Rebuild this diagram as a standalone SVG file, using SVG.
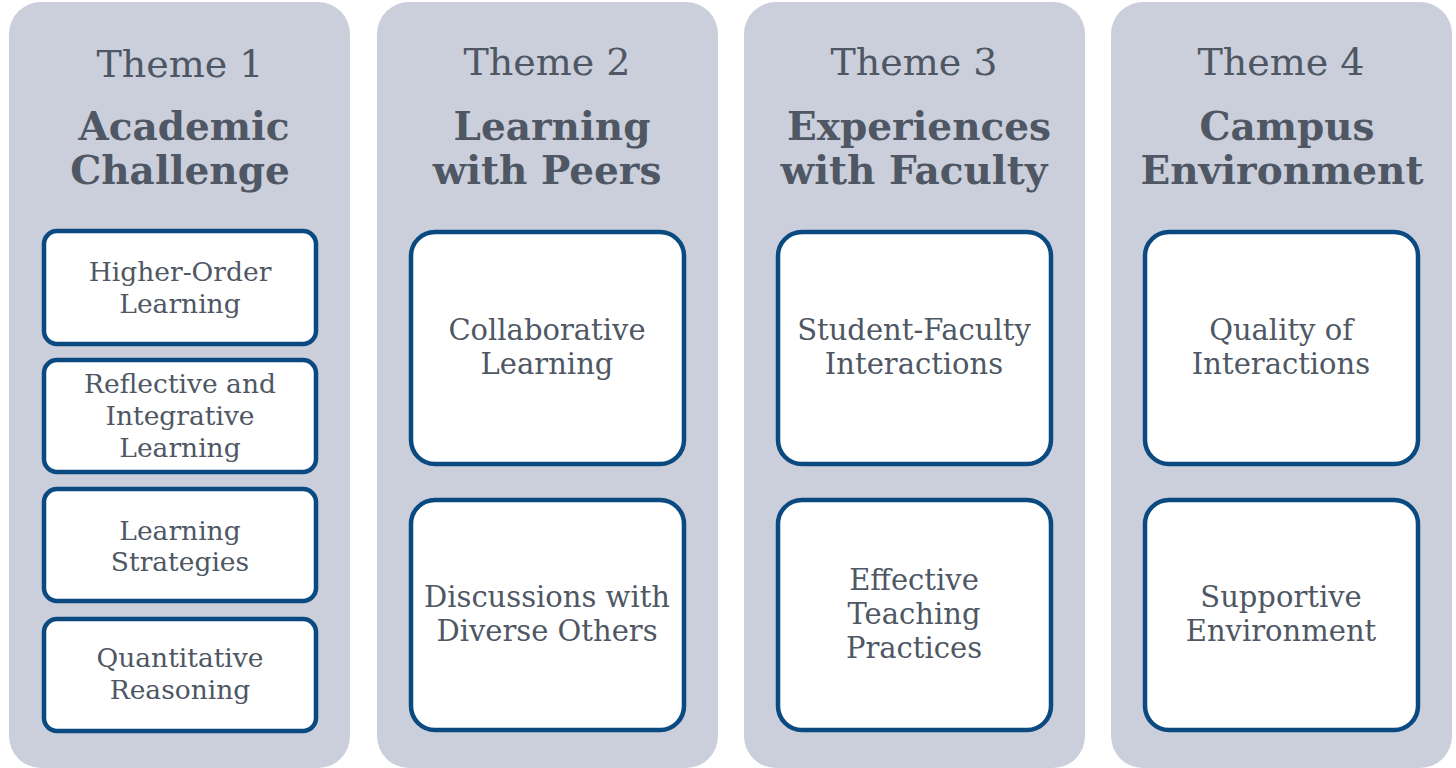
<svg xmlns="http://www.w3.org/2000/svg" width="1456" height="768" viewBox="0 0 1456 768">
<style>
.panel{fill:#cbcfdb;}
.box{fill:#ffffff;stroke:#0b4a80;stroke-width:4.5;}
text{font-family:"DejaVu Serif","Liberation Serif",serif;fill:#4e5763;text-anchor:middle;}
.theme{font-size:38px;}
.title{font-size:39px;font-weight:bold;}
.s{font-size:26.5px;}
.l{font-size:29px;}
</style>
<rect width="1456" height="768" fill="#ffffff"/>
<g id="theme1">
<rect class="panel" x="9" y="2" width="341" height="766" rx="32"/>
<text class="theme" x="180" y="77">Theme 1</text>
<text class="title" x="184" y="140">Academic</text>
<text class="title" x="180" y="184">Challenge</text>
</g>
<g id="theme2">
<rect class="panel" x="377" y="2" width="341" height="766" rx="32"/>
<text class="theme" x="547" y="75">Theme 2</text>
<text class="title" x="552" y="140">Learning</text>
<text class="title" x="547" y="184">with Peers</text>
</g>
<g id="theme3">
<rect class="panel" x="744" y="2" width="341" height="766" rx="32"/>
<text class="theme" x="914" y="75">Theme 3</text>
<text class="title" x="919" y="140">Experiences</text>
<text class="title" x="914" y="184">with Faculty</text>
</g>
<g id="theme4">
<rect class="panel" x="1111" y="2" width="341" height="766" rx="32"/>
<text class="theme" x="1281" y="75">Theme 4</text>
<text class="title" x="1287" y="140">Campus</text>
<text class="title" x="1282" y="184">Environment</text>
</g>
<g id="higher-order-learning">
<rect class="box" x="44" y="231" width="272" height="113" rx="13"/>
<text class="s" x="180" y="281">Higher-Order</text>
<text class="s" x="180" y="313">Learning</text>
</g>
<g id="reflective-integrative-learning">
<rect class="box" x="44" y="360" width="272" height="112" rx="13"/>
<text class="s" x="180" y="393">Reflective and</text>
<text class="s" x="180" y="425">Integrative</text>
<text class="s" x="180" y="457">Learning</text>
</g>
<g id="learning-strategies">
<rect class="box" x="44" y="489" width="272" height="112" rx="13"/>
<text class="s" x="180" y="540">Learning</text>
<text class="s" x="180" y="571">Strategies</text>
</g>
<g id="quantitative-reasoning">
<rect class="box" x="44" y="619" width="272" height="112" rx="13"/>
<text class="s" x="180" y="667">Quantitative</text>
<text class="s" x="180" y="699">Reasoning</text>
</g>
<g id="collaborative-learning">
<rect class="box" x="411" y="232" width="273" height="232" rx="24"/>
<text class="l" x="547" y="340">Collaborative</text>
<text class="l" x="547" y="374">Learning</text>
</g>
<g id="discussions-diverse-others">
<rect class="box" x="411" y="500" width="273" height="230" rx="24"/>
<text class="l" x="547" y="607">Discussions with</text>
<text class="l" x="547" y="641">Diverse Others</text>
</g>
<g id="student-faculty-interactions">
<rect class="box" x="778" y="232" width="273" height="232" rx="24"/>
<text class="l" x="914" y="340">Student-Faculty</text>
<text class="l" x="914" y="374">Interactions</text>
</g>
<g id="effective-teaching-practices">
<rect class="box" x="778" y="500" width="273" height="230" rx="24"/>
<text class="l" x="914" y="590">Effective</text>
<text class="l" x="914" y="624">Teaching</text>
<text class="l" x="914" y="658">Practices</text>
</g>
<g id="quality-of-interactions">
<rect class="box" x="1145" y="232" width="273" height="232" rx="24"/>
<text class="l" x="1281" y="340">Quality of</text>
<text class="l" x="1281" y="374">Interactions</text>
</g>
<g id="supportive-environment">
<rect class="box" x="1145" y="500" width="273" height="230" rx="24"/>
<text class="l" x="1281" y="607">Supportive</text>
<text class="l" x="1281" y="641">Environment</text>
</g>
<g id="connectors"></g>
</svg>
